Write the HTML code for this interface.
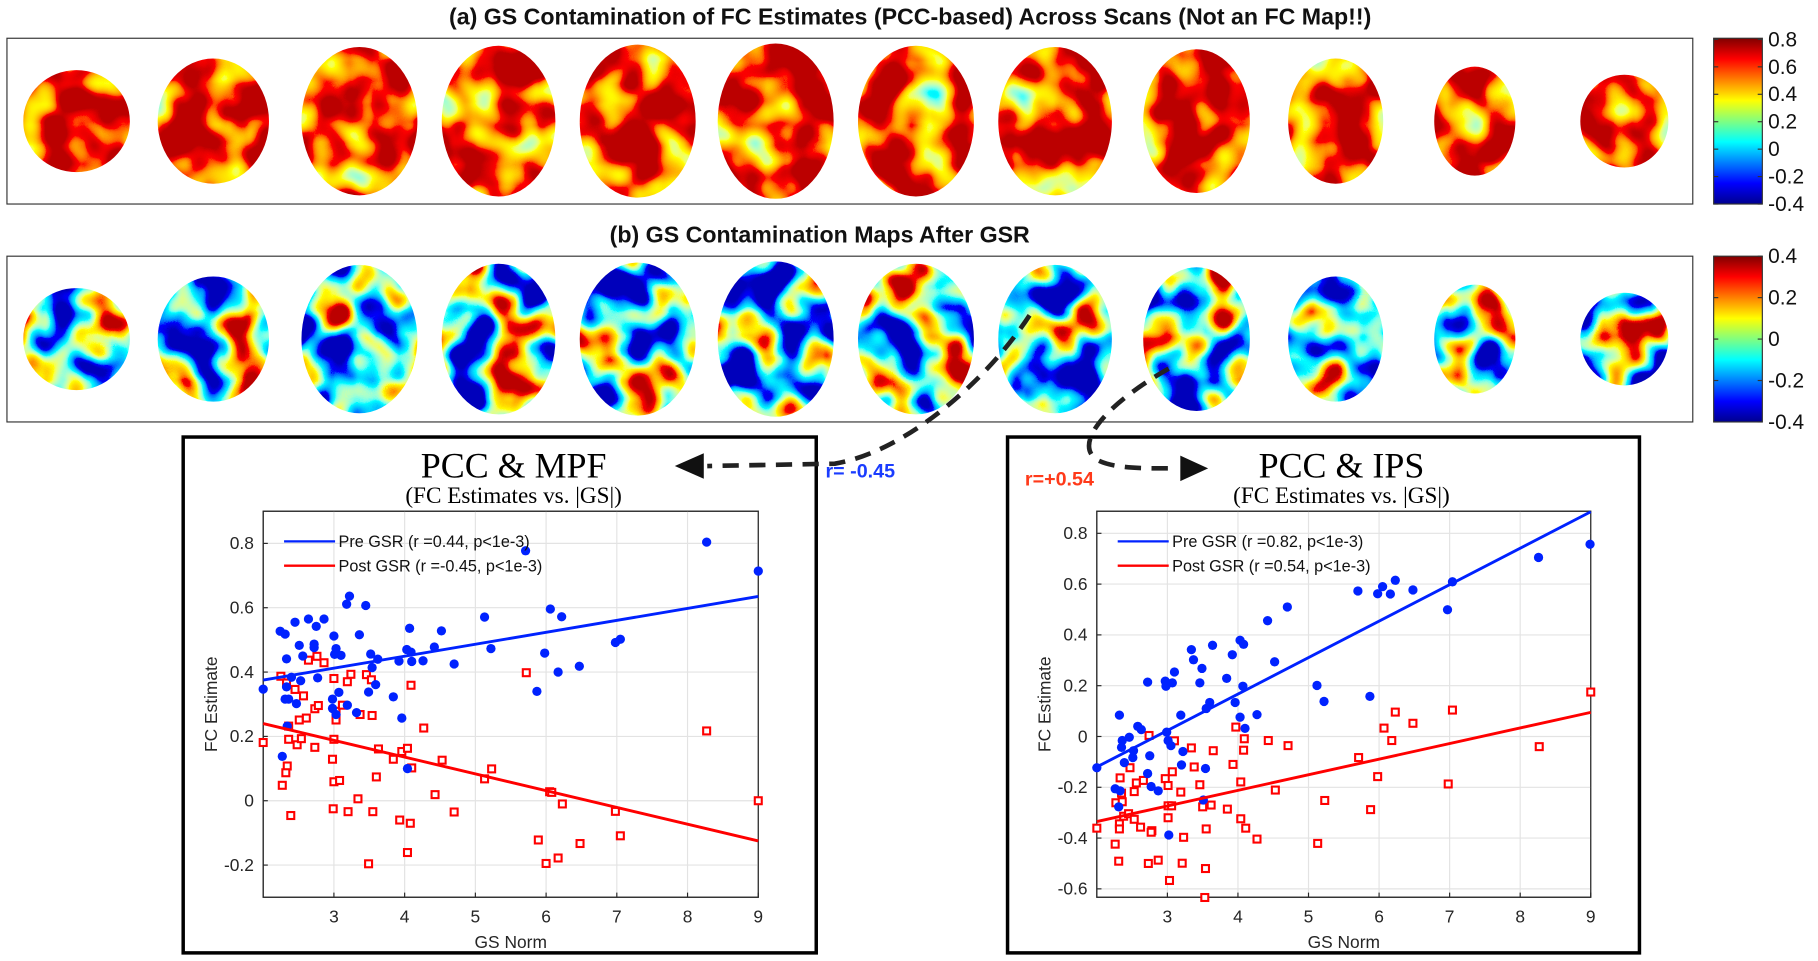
<!DOCTYPE html>
<html><head><meta charset="utf-8"><style>
html,body{margin:0;padding:0;background:#fff;}
svg{display:block;}
text{font-family:"Liberation Sans",sans-serif;}
</style></head><body>
<svg id="root" width="1818" height="961" viewBox="0 0 1568 829" preserveAspectRatio="none" xmlns="http://www.w3.org/2000/svg">
<defs>
<linearGradient id="jet" x1="0" y1="1" x2="0" y2="0">
<stop offset="0" stop-color="#00008f"/><stop offset="0.125" stop-color="#0000ff"/><stop offset="0.25" stop-color="#0080ff"/><stop offset="0.375" stop-color="#00ffff"/><stop offset="0.5" stop-color="#80ff80"/><stop offset="0.625" stop-color="#ffff00"/><stop offset="0.75" stop-color="#ff8000"/><stop offset="0.875" stop-color="#ff0000"/><stop offset="1" stop-color="#800000"/>
</linearGradient>
<filter id="texA" filterUnits="userSpaceOnUse" x="0" y="30" width="1470" height="150">
<feTurbulence type="fractalNoise" baseFrequency="0.028" numOctaves="2" seed="3"/>
<feColorMatrix type="matrix" values="1.3 0 0 0 0.22  1.3 0 0 0 0.22  1.3 0 0 0 0.22  0 0 0 0 1"/>
<feComponentTransfer>
<feFuncR type="table" tableValues="0 0 0 0 0.5 1 1 1 0.5"/>
<feFuncG type="table" tableValues="0 0 0.5 1 1 1 0.5 0 0"/>
<feFuncB type="table" tableValues="0.5 1 1 1 0.5 0 0 0 0"/>
</feComponentTransfer>
</filter>
<filter id="texB" filterUnits="userSpaceOnUse" x="0" y="218" width="1470" height="150">
<feTurbulence type="fractalNoise" baseFrequency="0.026" numOctaves="2" seed="7"/>
<feColorMatrix type="matrix" values="2.6 0 0 0 -0.9  2.6 0 0 0 -0.9  2.6 0 0 0 -0.9  0 0 0 0 1"/>
<feComponentTransfer>
<feFuncR type="table" tableValues="0 0 0 0 0.5 1 1 1 0.5"/>
<feFuncG type="table" tableValues="0 0 0.5 1 1 1 0.5 0 0"/>
<feFuncB type="table" tableValues="0.5 1 1 1 0.5 0 0 0 0"/>
</feComponentTransfer>
</filter>
<clipPath id="clipA"></clipPath>
<clipPath id="clipB"></clipPath>
</defs>

<text x="785" y="21" text-anchor="middle" font-size="20" font-weight="bold" fill="#111">(a) GS Contamination of FC Estimates (PCC-based) Across Scans (Not an FC Map!!)</text>
<rect x="6" y="33" width="1454" height="143" fill="#fff" stroke="#333" stroke-width="1"/>
<rect x="6" y="33" width="1454" height="143" filter="url(#texA)" clip-path="url(#clipA)"/>
<rect x="1478" y="33" width="42" height="143" fill="url(#jet)" stroke="#333"/>
<g id="cbA" font-size="18" fill="#111"></g>

<text x="707" y="209" text-anchor="middle" font-size="20" font-weight="bold" fill="#111">(b) GS Contamination Maps After GSR</text>
<rect x="6" y="221" width="1454" height="143" fill="#fff" stroke="#333" stroke-width="1"/>
<rect x="6" y="221" width="1454" height="143" filter="url(#texB)" clip-path="url(#clipB)"/>
<rect x="1478" y="221" width="42" height="143" fill="url(#jet)" stroke="#333"/>
<g id="cbB" font-size="18" fill="#111"></g>

<rect x="158" y="377" width="546" height="445" fill="none" stroke="#000" stroke-width="3"/>
<rect x="869" y="377" width="545" height="445" fill="none" stroke="#000" stroke-width="3"/>
<text x="443" y="412" text-anchor="middle" font-size="31" style="font-family:'Liberation Serif',serif">PCC &amp; MPF</text>
<text x="443" y="434" text-anchor="middle" font-size="20" style="font-family:'Liberation Serif',serif">(FC Estimates vs. |GS|)</text>
<text x="1157" y="412" text-anchor="middle" font-size="31" style="font-family:'Liberation Serif',serif">PCC &amp; IPS</text>
<text x="1157" y="434" text-anchor="middle" font-size="20" style="font-family:'Liberation Serif',serif">(FC Estimates vs. |GS|)</text>

<g id="mpf"></g>
<g id="ips"></g>

<path d="M888,272 C850,330 780,390 720,400 L610,402" fill="none" stroke="#222" stroke-width="4" stroke-dasharray="14,9"/>
<polygon points="582,402 607,391 607,413" fill="#111"/>
<text x="712" y="412" font-size="17" font-weight="bold" fill="#1a3cff">r= -0.45</text>
<path d="M1008,318 C960,345 925,380 945,396 C960,405 990,404 1015,404" fill="none" stroke="#222" stroke-width="4" stroke-dasharray="14,9"/>
<polygon points="1042,404 1018,393 1018,415" fill="#111"/>
<text x="884" y="419" font-size="17" font-weight="bold" fill="#ff3a1a">r=+0.54</text>
</svg>
<script>
// ---------- data ----------
const sliceCx=[66,184,310,430,550,669,790,910,1032,1152,1272,1401];
const sliceW=[92,96,100,98,100,100,100,98,92,82,70,76];
const sliceH=[88,108,128,130,132,134,130,128,124,108,94,80];
const cbATicks=["0.8","0.6","0.4","0.2","0","-0.2","-0.4"];
const cbBTicks=["0.4","0.2","0","-0.2","-0.4"];

const xTicks=[3,4,5,6,7,8,9];
const mpfYTicks=[0.8,0.6,0.4,0.2,0,-0.2];
const ipsYTicks=[0.8,0.6,0.4,0.2,0,-0.2,-0.4,-0.6];

const mpfPreX=[2.0,2.24,2.31,2.45,2.64,2.86,2.75,2.51,2.72,2.72,2.33,2.56,2.40,2.53,2.33,2.31,2.36,2.47,2.77,3.0,3.03,3.01,3.10,3.18,3.22,3.45,3.36,3.52,3.62,3.54,3.59,3.49,3.07,2.98,2.98,3.03,3.19,3.32,2.27,2.34,3.84,3.92,3.96,4.07,4.03,4.09,4.10,4.26,4.42,4.52,4.70,4.04,5.13,5.22,5.71,5.98,6.06,6.22,5.87,6.17,6.47,6.98,7.05,8.27,9.0];
const mpfPreY=[0.347,0.527,0.518,0.555,0.565,0.565,0.542,0.483,0.487,0.476,0.441,0.45,0.384,0.373,0.354,0.316,0.316,0.302,0.382,0.512,0.473,0.455,0.452,0.611,0.636,0.607,0.516,0.456,0.44,0.414,0.361,0.338,0.337,0.316,0.287,0.268,0.297,0.274,0.138,0.232,0.323,0.434,0.257,0.536,0.47,0.462,0.433,0.435,0.478,0.528,0.425,0.1,0.571,0.473,0.777,0.459,0.596,0.572,0.34,0.4,0.418,0.492,0.502,0.804,0.714];
const mpfPostX=[2.0,2.25,2.33,2.45,2.57,2.64,2.76,2.86,2.36,2.36,2.48,2.54,2.51,2.61,2.73,2.78,2.73,2.34,2.32,2.27,2.39,3.0,3.19,3.24,3.46,3.53,3.03,3.12,3.03,3.0,3.37,3.54,2.98,3.0,3.08,2.99,3.2,3.34,3.55,3.49,3.63,3.6,3.84,3.96,4.04,4.10,4.09,3.93,4.08,4.04,4.27,4.43,4.53,4.7,5.13,5.23,5.72,5.89,6.0,6.05,6.08,6.23,6.17,6.48,6.98,7.05,8.27,9.0];
const mpfPostY=[0.181,0.387,0.366,0.346,0.326,0.437,0.449,0.429,0.232,0.191,0.174,0.193,0.251,0.257,0.286,0.296,0.166,0.108,0.087,0.048,-0.046,0.38,0.37,0.393,0.392,0.376,0.278,0.297,0.251,0.191,0.268,0.265,0.129,0.059,0.063,-0.025,-0.034,0.006,-0.034,-0.196,0.161,0.074,0.129,0.153,0.163,0.102,0.359,-0.06,-0.07,-0.161,0.226,0.019,0.126,-0.035,0.068,0.099,0.398,-0.122,-0.195,0.028,0.026,-0.01,-0.178,-0.133,-0.033,-0.109,0.217,0.0];
const mpfPreFit=[0.375,0.635];
const mpfPostFit=[0.24,-0.125];

const ipsPreX=[2.0,2.26,2.33,2.31,2.32,2.36,2.35,2.39,2.46,2.52,2.51,2.58,2.63,2.72,2.75,2.72,2.77,2.87,2.97,2.98,3.07,3.10,2.99,3.01,3.05,3.19,3.22,3.20,3.02,3.34,3.37,3.49,3.46,3.55,3.6,3.64,3.54,3.51,3.84,3.92,3.96,4.03,4.08,4.07,4.03,4.10,4.27,4.42,4.52,4.70,5.12,5.22,5.70,5.87,5.98,6.05,6.16,6.23,6.48,6.97,7.04,8.26,8.99];
const ipsPreY=[-0.123,-0.206,-0.214,-0.277,0.084,-0.016,-0.043,-0.103,-0.003,-0.056,-0.083,0.04,0.027,0.214,-0.076,-0.146,-0.197,-0.214,0.218,0.198,0.211,0.254,0.017,-0.016,-0.036,0.084,-0.059,-0.112,-0.388,0.342,0.302,0.268,0.211,0.11,0.134,0.359,-0.126,-0.25,0.229,0.322,0.134,0.379,0.363,0.198,0.076,0.032,0.086,0.456,0.294,0.51,0.201,0.138,0.573,0.158,0.562,0.59,0.561,0.615,0.577,0.499,0.609,0.705,0.757];
const ipsPostX=[2.0,2.26,2.31,2.27,2.33,2.35,2.36,2.32,2.32,2.38,2.47,2.45,2.53,2.53,2.56,2.62,2.66,2.74,2.78,2.77,2.73,2.87,2.97,3.01,3.01,3.06,3.01,3.07,3.10,3.03,3.19,3.23,3.21,3.34,3.38,3.46,3.50,3.62,3.55,3.54,3.53,3.65,3.85,3.93,3.97,4.09,4.08,4.04,4.04,4.11,4.27,4.43,4.53,4.71,5.13,5.23,5.71,5.88,5.98,6.07,6.18,6.23,6.48,6.98,7.04,8.27,9.0];
const ipsPostY=[-0.361,-0.424,-0.491,-0.261,-0.163,-0.223,-0.257,-0.344,-0.364,-0.314,-0.123,-0.304,-0.217,-0.326,-0.183,-0.357,-0.173,0.004,-0.371,-0.377,-0.5,-0.487,-0.166,-0.193,-0.273,-0.273,-0.32,-0.139,-0.017,-0.567,-0.219,-0.397,-0.499,-0.045,-0.12,-0.19,-0.277,-0.27,-0.364,-0.52,-0.634,-0.056,-0.286,-0.11,0.037,-0.009,-0.054,-0.179,-0.324,-0.361,-0.404,-0.016,-0.211,-0.036,-0.421,-0.252,-0.083,-0.288,-0.158,0.033,-0.016,0.096,0.052,-0.187,0.104,-0.04,0.175];
const ipsPreFit=[-0.12,0.885];
const ipsPostFit=[-0.335,0.095];
const xDomain=[2,9];
const mpfLegend=["Pre GSR (r =0.44, p<1e-3)","Post GSR (r =-0.45, p<1e-3)"];
const ipsLegend=["Pre GSR (r =0.82, p<1e-3)","Post GSR (r =0.54, p<1e-3)"];

// ---------- drawing ----------
const NS="http://www.w3.org/2000/svg";
function mk(tag,attrs,parent){const e=document.createElementNS(NS,tag);for(const k in attrs)e.setAttribute(k,attrs[k]);parent.appendChild(e);return e;}

[["clipA",104.5],["clipB",292.5]].forEach(([id,cy])=>{
  const cp=document.getElementById(id);
  sliceCx.forEach((cx,i)=>{
    const el=mk("ellipse",{cx:cx,cy:cy,rx:sliceW[i]/2,ry:sliceH[i]/2},cp);
    
    
  });
});
function cbar(gid,ticks,y0,y1){
  const g=document.getElementById(gid);
  ticks.forEach((t,i)=>{
    const y=y0+(y1-y0)*i/(ticks.length-1);
    const tx=mk("text",{x:1525,y:y+6},g);tx.textContent=t;
    
    
    mk("line",{x1:1478,x2:1482,y1:y,y2:y,stroke:"#333"},g);
    mk("line",{x1:1516,x2:1520,y1:y,y2:y,stroke:"#333"},g);
  });
}
cbar("cbA",cbATicks,34,176);
cbar("cbB",cbBTicks,221,364);

function plot(gid,L,R,T,B,yDom,yTicks,preX,preY,postX,postY,preFit,postFit,legend){
  const g=document.getElementById(gid);
  const sx=v=>L+(v-xDomain[0])/(xDomain[1]-xDomain[0])*(R-L);
  const sy=v=>B-(v-yDom[0])/(yDom[1]-yDom[0])*(B-T);
  mk("rect",{x:L,y:T,width:R-L,height:B-T,fill:"#fff",stroke:"#262626","stroke-width":1},g);
  xTicks.forEach(t=>{
    const x=sx(t);
    mk("line",{x1:x,x2:x,y1:T,y2:B,stroke:"#e3e3e3"},g);
    mk("line",{x1:x,x2:x,y1:B,y2:B-4,stroke:"#262626"},g);
    const tx=mk("text",{x:x,y:B+22,"text-anchor":"middle","font-size":15,fill:"#262626"},g);tx.textContent=t;
    
    
  });
  yTicks.forEach(t=>{
    const y=sy(t);
    mk("line",{x1:L,x2:R,y1:y,y2:y,stroke:"#e3e3e3"},g);
    mk("line",{x1:L,x2:L+4,y1:y,y2:y,stroke:"#262626"},g);
    const tx=mk("text",{x:L-8,y:y+5,"text-anchor":"end","font-size":15,fill:"#262626"},g);tx.textContent=String(t);
    
    
  });
  mk("rect",{x:L,y:T,width:R-L,height:B-T,fill:"none",stroke:"#262626","stroke-width":1},g);
  postX.forEach((v,i)=>{
    const r=mk("rect",{x:sx(v)-3,y:sy(postY[i])-3,width:6,height:6,fill:"#fff",stroke:"#ff0000","stroke-width":1.8},g);
    
    
  });
  preX.forEach((v,i)=>{
    const c=mk("circle",{cx:sx(v),cy:sy(preY[i]),r:4,fill:"#0022ff"},g);
    
    
  });
  const l1=mk("line",{x1:sx(xDomain[0]),y1:sy(preFit[0]),x2:sx(xDomain[1]),y2:sy(preFit[1]),stroke:"#0022ff","stroke-width":2.5},g);
  
  
  const l2=mk("line",{x1:sx(xDomain[0]),y1:sy(postFit[0]),x2:sx(xDomain[1]),y2:sy(postFit[1]),stroke:"#ff0000","stroke-width":2.5},g);
  
  
  [["#0022ff",legend[0],0],["#ff0000",legend[1],1]].forEach(([c,t,i])=>{
    const y=T+26+i*21;
    mk("line",{x1:L+18,x2:L+62,y1:y,y2:y,stroke:c,"stroke-width":2},g);
    const tx=mk("text",{x:L+65,y:y+5,"font-size":14,fill:"#111"},g);tx.textContent=t;
    
    
  });
  const xl=mk("text",{x:(L+R)/2,y:B+44,"text-anchor":"middle","font-size":15,fill:"#262626"},g);xl.textContent="GS Norm";
  
  
  const yl=mk("text",{x:0,y:0,"text-anchor":"middle","font-size":15,fill:"#262626",transform:`translate(${L-40},${(T+B)/2}) rotate(-90)`},g);yl.textContent="FC Estimate";
  
  
}
plot("mpf",227,654,441,774,[-0.3,0.9],mpfYTicks,mpfPreX,mpfPreY,mpfPostX,mpfPostY,mpfPreFit,mpfPostFit,mpfLegend);
plot("ips",946,1372,441,774,[-0.633,0.887],ipsYTicks,ipsPreX,ipsPreY,ipsPostX,ipsPostY,ipsPreFit,ipsPostFit,ipsLegend);
</script>
</body></html>
